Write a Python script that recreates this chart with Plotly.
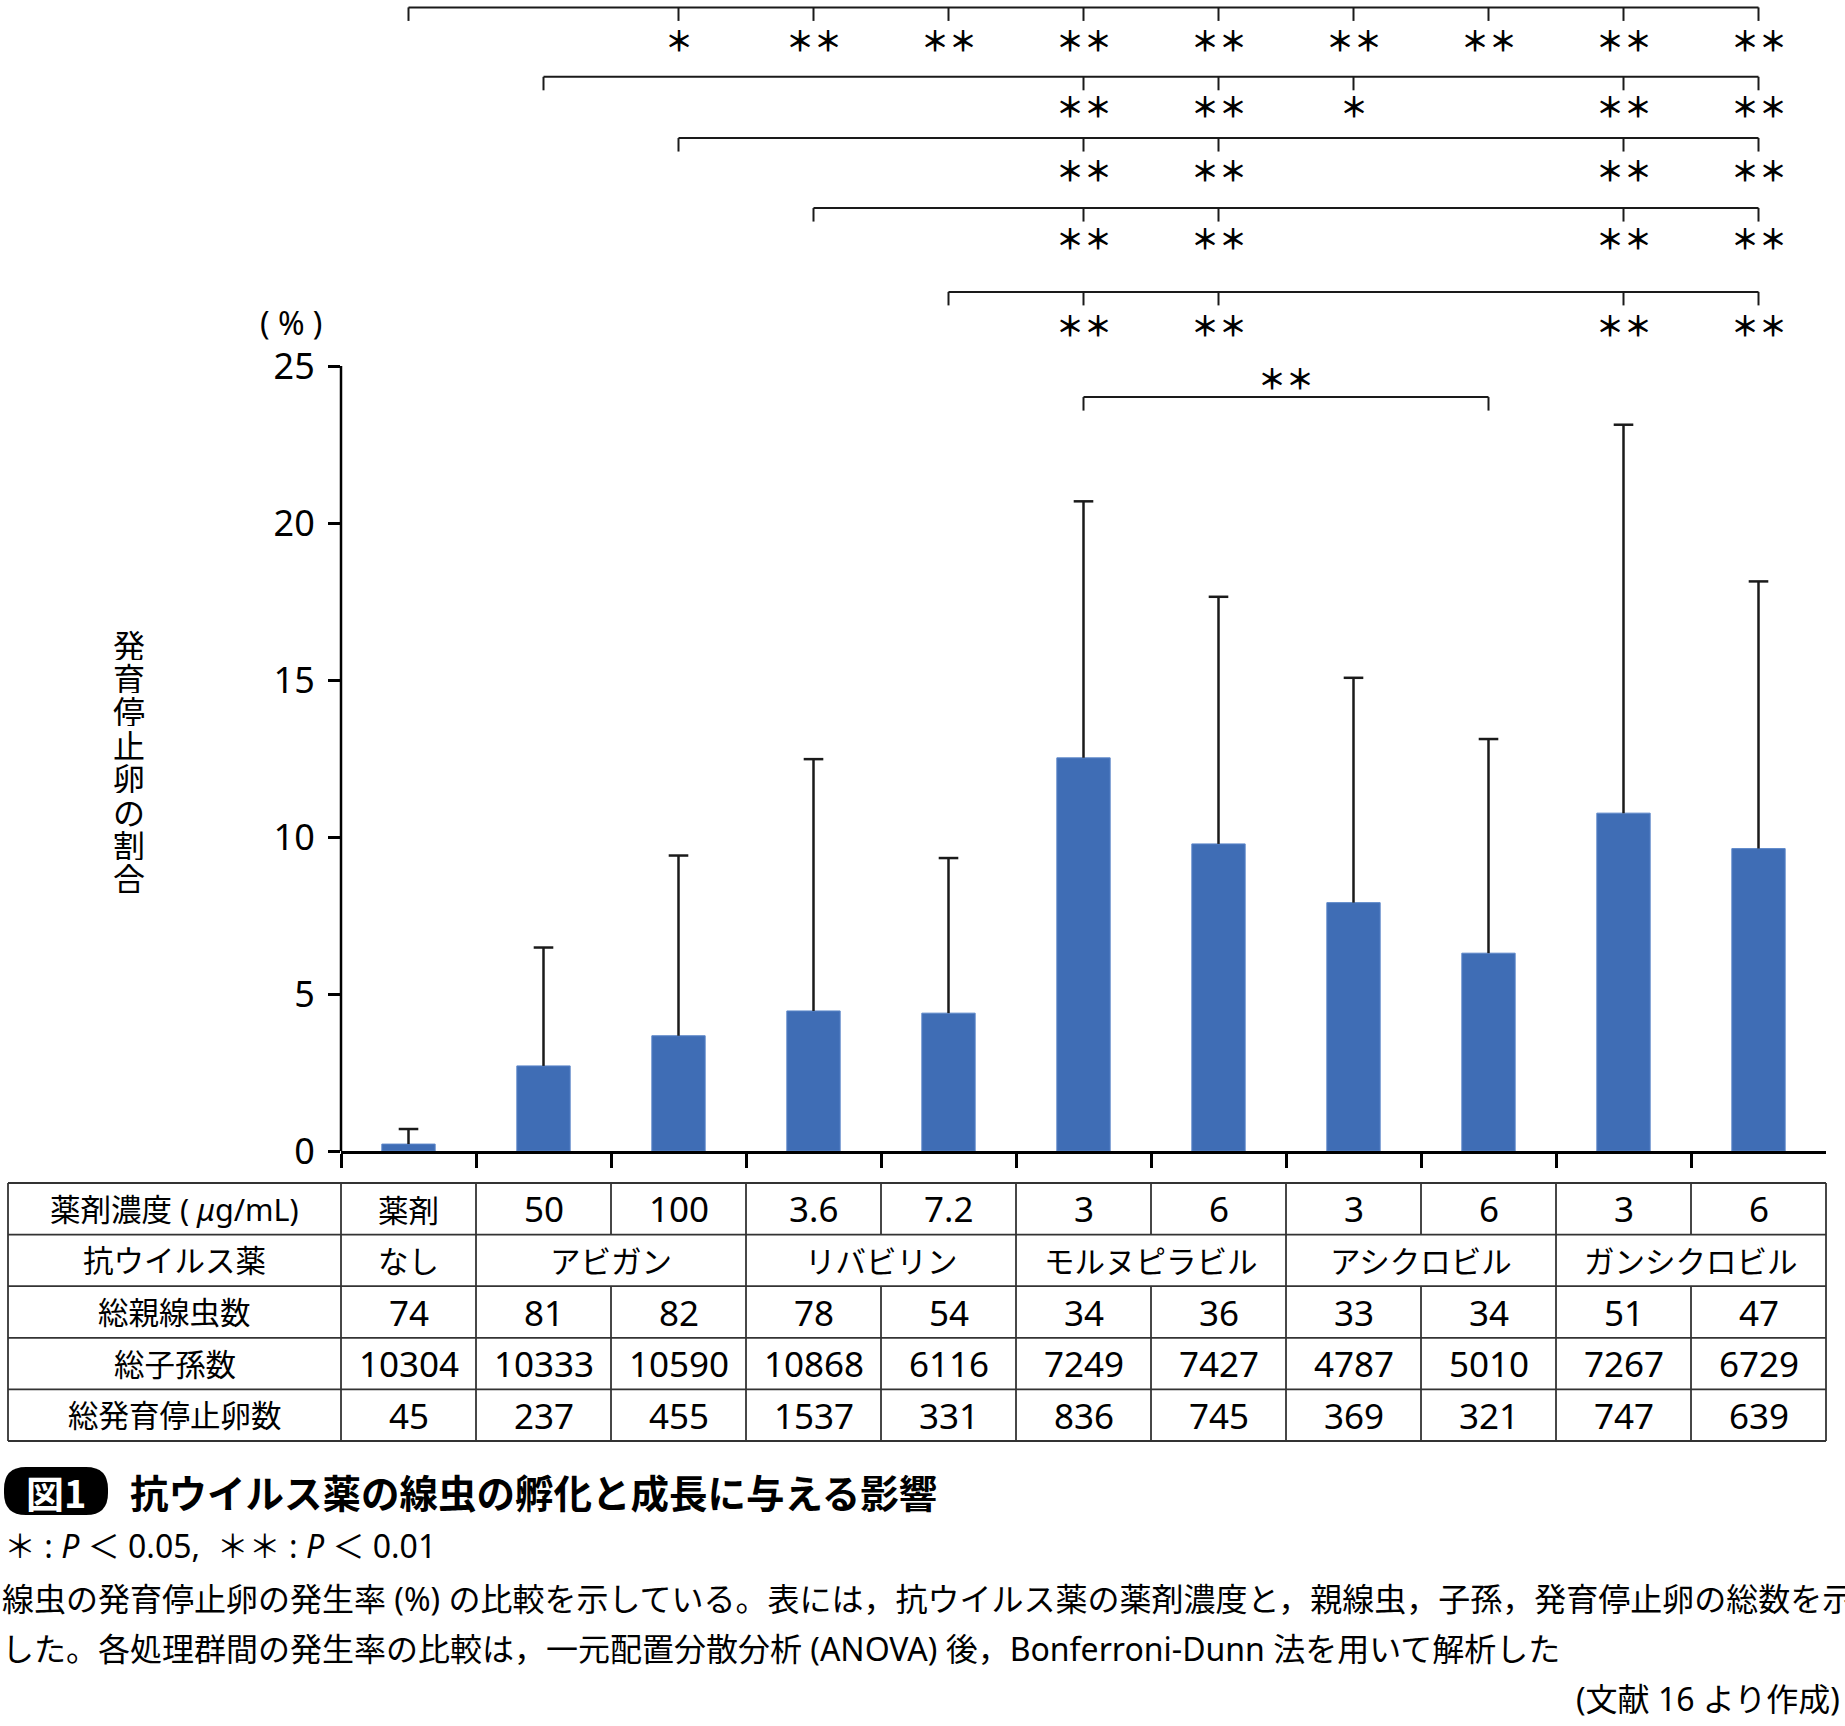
import plotly.graph_objects as go

# ---------------- data ----------------
categories = ["なし", "アビガン50", "アビガン100", "リバビリン3.6", "リバビリン7.2",
              "モルヌピラビル3", "モルヌピラビル6", "アシクロビル3", "アシクロビル6",
              "ガンシクロビル3", "ガンシクロビル6"]
mean_pct = [0.22, 2.71, 3.67, 4.46, 4.39, 12.52, 9.78, 7.91, 6.30, 10.76, 9.63]
sd_pct = [0.48, 3.77, 5.74, 8.02, 4.94, 8.17, 7.87, 7.16, 6.82, 12.37, 8.51]

y_ticks = [0, 5, 10, 15, 20, 25]
y_title = "発育停止卵の割合"
y_unit = "( % )"

row_labels = ["薬剤濃度 ( <i>μ</i>g/mL)", "抗ウイルス薬", "総親線虫数", "総子孫数", "総発育停止卵数"]
conc_labels = ["薬剤", "50", "100", "3.6", "7.2", "3", "6", "3", "6", "3", "6"]
drug_groups = ["なし", "アビガン", "リバビリン", "モルヌピラビル", "アシクロビル", "ガンシクロビル"]
group_first = [0, 1, 3, 5, 7, 9]
group_last = [0, 2, 4, 6, 8, 10]
parents = [74, 81, 82, 78, 54, 34, 36, 33, 34, 51, 47]
offspring = [10304, 10333, 10590, 10868, 6116, 7249, 7427, 4787, 5010, 7267, 6729]
arrested = [45, 237, 455, 1537, 331, 836, 745, 369, 321, 747, 639]

# significance brackets: reference group, compared groups, marks
bracket_ref = [0, 1, 2, 3, 4]
bracket_targets = [[2, 3, 4, 5, 6, 7, 8, 9, 10],
                   [5, 6, 7, 9, 10],
                   [5, 6, 9, 10],
                   [5, 6, 9, 10],
                   [5, 6, 9, 10]]
bracket_marks = [["*", "**", "**", "**", "**", "**", "**", "**", "**"],
                 ["**", "**", "*", "**", "**"],
                 ["**", "**", "**", "**"],
                 ["**", "**", "**", "**"],
                 ["**", "**", "**", "**"]]
inner_pair = [5, 8]
inner_mark = "**"

fig_title = "抗ウイルス薬の線虫の孵化と成長に与える影響"
badge_text = "図1"
sig_note = "＊ : <i>P</i> ＜ 0.05,  ＊＊ : <i>P</i> ＜ 0.01"
caption_1 = "線虫の発育停止卵の発生率 (%) の比較を示している。表には，抗ウイルス薬の薬剤濃度と，親線虫，子孫，発育停止卵の総数を示"
caption_2 = "した。各処理群間の発生率の比較は，一元配置分散分析 (ANOVA) 後，Bonferroni-Dunn 法を用いて解析した"
source_note = "(文献 16 より作成)"

# ---------------- layout constants ----------------
W, H = 1845, 1726
ML, MR, MT, MB = 341, 19, 0, 575
PLOT_W = W - ML - MR
PLOT_H = H - MT - MB
PX_PER_UNIT = 31.4
Y_MAX = PLOT_H / PX_PER_UNIT

JP = "Noto Sans CJK JP"
MIX = "Noto Sans, Noto Sans CJK JP"
BAR_COLOR = "#3f6db5"
LINE_COLOR = "#1a1a1a"
TABLE_LINE = "#333333"


def px_x(px):
    return (px - ML) / PLOT_W


def px_y(py):
    return (H - MB - py) / PLOT_H


n = len(categories)
err_top = [m + s for m, s in zip(mean_pct, sd_pct)]

fig = go.Figure()
fig.add_trace(go.Bar(
    x=list(range(n)), y=mean_pct, width=0.395,
    marker=dict(color=BAR_COLOR, line=dict(width=1, color="#5b86c9")),
    error_y=dict(type="data", array=sd_pct, arrayminus=[0] * n, symmetric=False,
                 color=LINE_COLOR, thickness=2.5, width=0),
    hoverinfo="skip", showlegend=False,
))
# caps only at the upper end of the error bars
fig.add_trace(go.Scatter(
    x=list(range(n)), y=err_top, mode="markers",
    marker=dict(symbol="line-ew", size=14, line=dict(color=LINE_COLOR, width=2.5)),
    hoverinfo="skip", showlegend=False,
))

shapes = []
annotations = []

# y axis line (only 0..25)
shapes.append(dict(type="line", xref="paper", yref="y", x0=0, x1=0, y0=0, y1=y_ticks[-1],
                   line=dict(color="black", width=2.5)))

# ---------------- brackets ----------------
row_line_y = [36.42, 34.21, 32.26, 30.03, 27.36]
row_star_y = [35.38, 33.28, 31.24, 29.08, 26.31]
TICK_DROP = 0.43


def add_stars(xc, yc, mark):
    annotations.append(dict(xref="x", yref="y", x=xc, y=yc,
                            text="<b>" + "＊" * len(mark) + "</b>", showarrow=False,
                            font=dict(family=JP, size=28, color="black"),
                            xanchor="center", yanchor="middle"))


for r, ref in enumerate(bracket_ref):
    yl = row_line_y[r]
    last = bracket_targets[r][-1]
    shapes.append(dict(type="line", xref="x", yref="y", x0=ref, x1=last, y0=yl, y1=yl,
                       line=dict(color=LINE_COLOR, width=2)))
    for t in [ref] + bracket_targets[r]:
        shapes.append(dict(type="line", xref="x", yref="y", x0=t, x1=t, y0=yl, y1=yl - TICK_DROP,
                           line=dict(color=LINE_COLOR, width=2)))
    for t, m in zip(bracket_targets[r], bracket_marks[r]):
        add_stars(t, row_star_y[r], m)

inner_y = 24.01
shapes.append(dict(type="line", xref="x", yref="y", x0=inner_pair[0], x1=inner_pair[1],
                   y0=inner_y, y1=inner_y, line=dict(color=LINE_COLOR, width=2)))
for t in inner_pair:
    shapes.append(dict(type="line", xref="x", yref="y", x0=t, x1=t, y0=inner_y, y1=inner_y - TICK_DROP,
                       line=dict(color=LINE_COLOR, width=2)))
add_stars(sum(inner_pair) / 2, 24.62, inner_mark)

# ---------------- y title and unit ----------------
for i, ch in enumerate(y_title):
    annotations.append(dict(xref="paper", yref="paper", x=px_x(129), y=px_y(643 + i * 33.4),
                            text=ch, showarrow=False, height=33, valign="middle",
                            font=dict(family=JP, size=32, color="black"),
                            xanchor="center", yanchor="middle"))
annotations.append(dict(xref="paper", yref="paper", x=px_x(291), y=px_y(322), text=y_unit,
                        showarrow=False, font=dict(family=MIX, size=32, color="black"),
                        xanchor="center", yanchor="middle"))

# ---------------- table ----------------
T_LEFT, T_TOP, ROW_H = 8, 1183, 51.6
n_rows = len(row_labels)
T_BOTTOM = T_TOP + ROW_H * n_rows
xl, xr = px_x(T_LEFT), 1.0
for k in range(n_rows + 1):
    yy = px_y(T_TOP + k * ROW_H)
    shapes.append(dict(type="line", xref="paper", yref="paper", x0=xl, x1=xr, y0=yy, y1=yy,
                       line=dict(color=TABLE_LINE, width=1.8)))
for xx in [xl, 0.0, 1.0]:
    shapes.append(dict(type="line", xref="paper", yref="paper", x0=xx, x1=xx,
                       y0=px_y(T_TOP), y1=px_y(T_BOTTOM), line=dict(color=TABLE_LINE, width=1.8)))
group_bounds = set(group_first[1:])
for r in range(n_rows):
    y0, y1 = px_y(T_TOP + r * ROW_H), px_y(T_TOP + (r + 1) * ROW_H)
    for k in range(1, n):
        if r == 1 and k not in group_bounds:
            continue
        shapes.append(dict(type="line", xref="paper", yref="paper", x0=k / n, x1=k / n,
                           y0=y0, y1=y1, line=dict(color=TABLE_LINE, width=1.8)))


def row_y(r):
    return px_y(T_TOP + (r + 0.5) * ROW_H)


for r, lab in enumerate(row_labels):
    annotations.append(dict(xref="paper", yref="paper", x=(xl + 0) / 2, y=row_y(r), text=lab,
                            showarrow=False, font=dict(family=MIX, size=30.5, color="black"),
                            xanchor="center", yanchor="middle"))

for i in range(n):
    lab = conc_labels[i]
    is_num = lab.replace(".", "").isdigit()
    annotations.append(dict(xref="x", yref="paper", x=i, y=row_y(0), text=lab, showarrow=False,
                            font=dict(family="Noto Sans" if is_num else JP, size=35 if is_num else 30.5,
                                      color="black"),
                            xanchor="center", yanchor="middle"))
    for r, vals in ((2, parents), (3, offspring), (4, arrested)):
        annotations.append(dict(xref="x", yref="paper", x=i, y=row_y(r), text=str(vals[i]),
                                showarrow=False, font=dict(family="Noto Sans", size=35, color="black"),
                                xanchor="center", yanchor="middle"))
for g, name in enumerate(drug_groups):
    annotations.append(dict(xref="x", yref="paper", x=(group_first[g] + group_last[g]) / 2, y=row_y(1),
                            text=name, showarrow=False, font=dict(family=JP, size=30.5, color="black"),
                            xanchor="center", yanchor="middle"))

# ---------------- captions ----------------
bx0, bx1, by0, by1, rad = 4, 108, 1467, 1515, 22
path = (f"M {px_x(bx0 + rad)} {px_y(by0)} L {px_x(bx1 - rad)} {px_y(by0)} "
        f"Q {px_x(bx1)} {px_y(by0)} {px_x(bx1)} {px_y(by0 + rad)} "
        f"L {px_x(bx1)} {px_y(by1 - rad)} Q {px_x(bx1)} {px_y(by1)} {px_x(bx1 - rad)} {px_y(by1)} "
        f"L {px_x(bx0 + rad)} {px_y(by1)} Q {px_x(bx0)} {px_y(by1)} {px_x(bx0)} {px_y(by1 - rad)} "
        f"L {px_x(bx0)} {px_y(by0 + rad)} Q {px_x(bx0)} {px_y(by0)} {px_x(bx0 + rad)} {px_y(by0)} Z")
shapes.append(dict(type="path", xref="paper", yref="paper", path=path,
                   fillcolor="black", line=dict(color="black", width=0)))
annotations.append(dict(xref="paper", yref="paper", x=px_x((bx0 + bx1) / 2), y=px_y(1491),
                        text=f"<b>{badge_text}</b>", showarrow=False,
                        font=dict(family=JP, size=38, color="white"), xanchor="center", yanchor="middle"))
annotations.append(dict(xref="paper", yref="paper", x=px_x(128), y=px_y(1491),
                        text=f"<b>{fig_title}</b>", showarrow=False,
                        font=dict(family=JP, size=38.5, color="black"), xanchor="left", yanchor="middle"))
annotations.append(dict(xref="paper", yref="paper", x=px_x(2), y=px_y(1545), text=sig_note,
                        showarrow=False, font=dict(family=MIX, size=32, color="black"),
                        xanchor="left", yanchor="middle"))
annotations.append(dict(xref="paper", yref="paper", x=px_x(0), y=px_y(1598), text=caption_1,
                        showarrow=False, font=dict(family=MIX, size=32, color="black"),
                        xanchor="left", yanchor="middle"))
annotations.append(dict(xref="paper", yref="paper", x=px_x(0), y=px_y(1648), text=caption_2,
                        showarrow=False, font=dict(family=MIX, size=32, color="black"),
                        xanchor="left", yanchor="middle"))
annotations.append(dict(xref="paper", yref="paper", x=px_x(1842), y=px_y(1698), text=source_note,
                        showarrow=False, font=dict(family=MIX, size=32, color="black"),
                        xanchor="right", yanchor="middle"))

fig.update_layout(
    width=W, height=H,
    margin=dict(l=ML, r=MR, t=MT, b=MB, pad=0),
    paper_bgcolor="white", plot_bgcolor="white",
    xaxis=dict(range=[-0.5, n - 0.5], tickmode="array", tickvals=[k - 0.5 for k in range(n)],
               ticks="outside", ticklen=14, tickwidth=2.5, tickcolor="black",
               showticklabels=False, showline=True, linewidth=3, linecolor="black",
               showgrid=False, zeroline=False, fixedrange=True),
    yaxis=dict(range=[0, Y_MAX], tickmode="array", tickvals=y_ticks,
               ticks="outside", ticklen=12, tickwidth=2.5, tickcolor="black",
               tickfont=dict(family="Noto Sans", size=36, color="black"), ticklabelstandoff=6,
               showline=False, showgrid=False, zeroline=False, fixedrange=True),
    shapes=shapes, annotations=annotations, bargap=0.6,
)

fig.write_html("out.html", config={"displayModeBar": False},
               post_script="document.body.style.margin='0px';")
